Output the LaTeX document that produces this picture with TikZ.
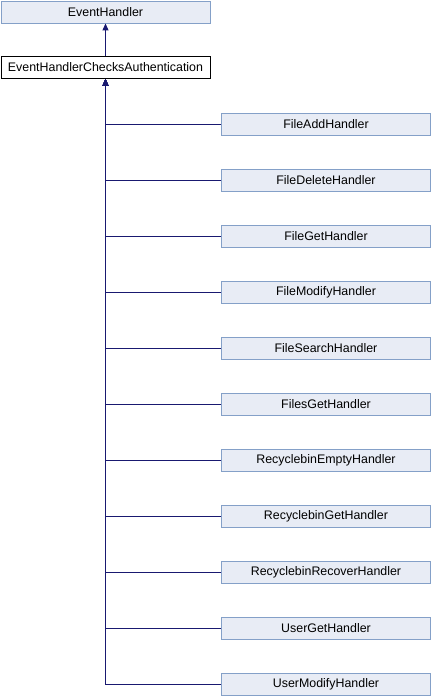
\documentclass[tikz,border=0pt]{standalone}
\usepackage{fontspec}
\setmainfont{Liberation Sans}
\usetikzlibrary{arrows.meta}
\definecolor{edgecol}{RGB}{25,25,112}
\definecolor{boxfill}{RGB}{232,236,245}
\definecolor{boxdraw}{RGB}{132,160,200}
\begin{document}
\begin{tikzpicture}[x=1pt,y=-1pt,
  cls/.style={draw=boxdraw, fill=boxfill, minimum width=209pt, minimum height=22pt, inner sep=0pt, font=\fontsize{12.4}{14}\selectfont, line width=0.9pt},
  cur/.style={cls, draw=black, fill=white},
  inh/.style={draw=edgecol, line width=1pt, -{Triangle[length=7pt,width=6pt]}}]
\useasboundingbox (0,0) rectangle (432,696);
\node[cls] (eh) at (105.5,12) {EventHandler};
\node[cur] (eca) at (105.5,67.5) {EventHandlerChecksAuthentication};
\draw[inh] (eca) -- (eh);
\foreach \n [count=\i] in {FileAddHandler,FileDeleteHandler,FileGetHandler,FileModifyHandler,FileSearchHandler,FilesGetHandler,RecyclebinEmptyHandler,RecyclebinGetHandler,RecyclebinRecoverHandler,UserGetHandler,UserModifyHandler}{
  \node[cls] (c\i) at (326,68+56*\i) {\n};
  \draw[inh] (c\i.west) -| (eca.south);
}
\end{tikzpicture}
\end{document}
